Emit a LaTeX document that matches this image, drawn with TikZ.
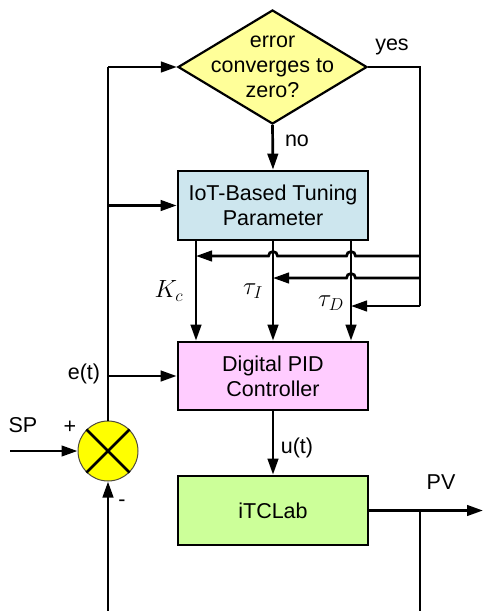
\documentclass[tikz,border=0pt]{standalone}
\usepackage{fontspec}
\setmainfont{Liberation Sans}
\usetikzlibrary{shapes.geometric,arrows.meta}
\definecolor{decfill}{HTML}{FFFF99}
\definecolor{iotfill}{HTML}{CDE6EE}
\definecolor{pidfill}{HTML}{FFCCFF}
\definecolor{labfill}{HTML}{CCFF99}
\definecolor{sumfill}{HTML}{FFFF00}
\begin{document}
\begin{tikzpicture}[x=1pt,y=-1pt,
  line width=2.7pt,
  every node/.style={font=\fontsize{21.5}{25}\selectfont},
  arr/.style={-{Triangle[length=16pt,width=10.5pt]}},
  blk/.style={draw, rectangle, minimum width=190pt, minimum height=69pt, align=center, inner sep=0pt},
  mathlbl/.style={font=\fontsize{24}{28}\selectfont, inner sep=0pt}
]
\useasboundingbox (0,0) rectangle (483,611);

% blocks
\node[diamond, draw, line width=2.2pt, fill=decfill, minimum width=189pt, minimum height=114pt, inner sep=0pt] (dec) at (272.5,67) {};
\node[align=center, inner sep=0pt] (dect) at (dec.center) {error\\converges to\\zero?};
\node[blk, fill=iotfill] (iot) at (273,205.5) {IoT-Based Tuning\\Parameter};
\node[blk, fill=pidfill, minimum height=68pt] (pid) at (273,376) {Digital PID\\Controller};
\node[blk, fill=labfill] (lab) at (273,510.5) {iTCLab};
\node[circle, draw=black!80!yellow, line width=1pt, fill=sumfill, minimum size=60pt, inner sep=0pt] (sum) at (108,451) {};
\draw (sum.north west) -- (sum.south east);
\draw (sum.north east) -- (sum.south west);

% coordinates
\coordinate (tl) at (108,67);
\coordinate (tr) at (420,67);
\coordinate (j1) at (420,256);
\coordinate (j2) at (420,278);
\coordinate (j3) at (420,306);
\coordinate (kc) at (196,256);
\coordinate (ti) at (273,278);
\coordinate (td) at (351,306);
\coordinate (sp) at (10,451);
\coordinate (bl) at (108,611);
\coordinate (br) at (420,611);
\coordinate (pvend) at (483,510.5);

% connectors
\draw[arr] (dec.south) -- (iot.north);
\draw (dec.east) -- (tr) -- (j3);
\draw[arr] (j3) -- (td);
\draw[arr] (j2) -- (355.5,278) arc[start angle=0, end angle=180, radius=4.5pt] -- (ti);
\draw[arr] (j1) -- (355.5,256) arc[start angle=0, end angle=180, radius=4.5pt]
  -- (277.5,256) arc[start angle=0, end angle=180, radius=4.5pt] -- (kc);
\draw[arr] (iot.south -| kc) -- (pid.north -| kc);
\draw[arr] (iot.south -| ti) -- (pid.north -| ti);
\draw[arr] (iot.south -| td) -- (pid.north -| td);

\draw (sum.north) -- (tl);
\draw[arr] (tl) -- (dec.west);
\draw[arr] (iot.west -| tl) -- (iot.west);
\draw[arr] (pid.west -| tl) -- (pid.west);
\draw[arr] (sp) -- (sum.west);
\draw[arr] (bl) -- (sum.south);
\draw[arr] (pid.south) -- (lab.north);
\draw[arr] (lab.east) -- (pvend);
\draw (lab.east -| tr) -- (br);

% labels
\node (yes) at (392,47) {yes};
\node (no) at (297,141) {no};
\node[mathlbl] (kcl) at (169,291) {$K_c$};
\node[mathlbl] (til) at (253,291) {$\tau_I$};
\node[mathlbl] (tdl) at (331,303) {$\tau_D$};
\node (et) at (84,374) {e(t)};
\node (spl) at (23,425) {SP};
\node (plus) at (70,427) {+};
\node (minus) at (122,503) {-};
\node (ut) at (297,448) {u(t)};
\node (pvl) at (441,482) {PV};
\end{tikzpicture}
\end{document}
